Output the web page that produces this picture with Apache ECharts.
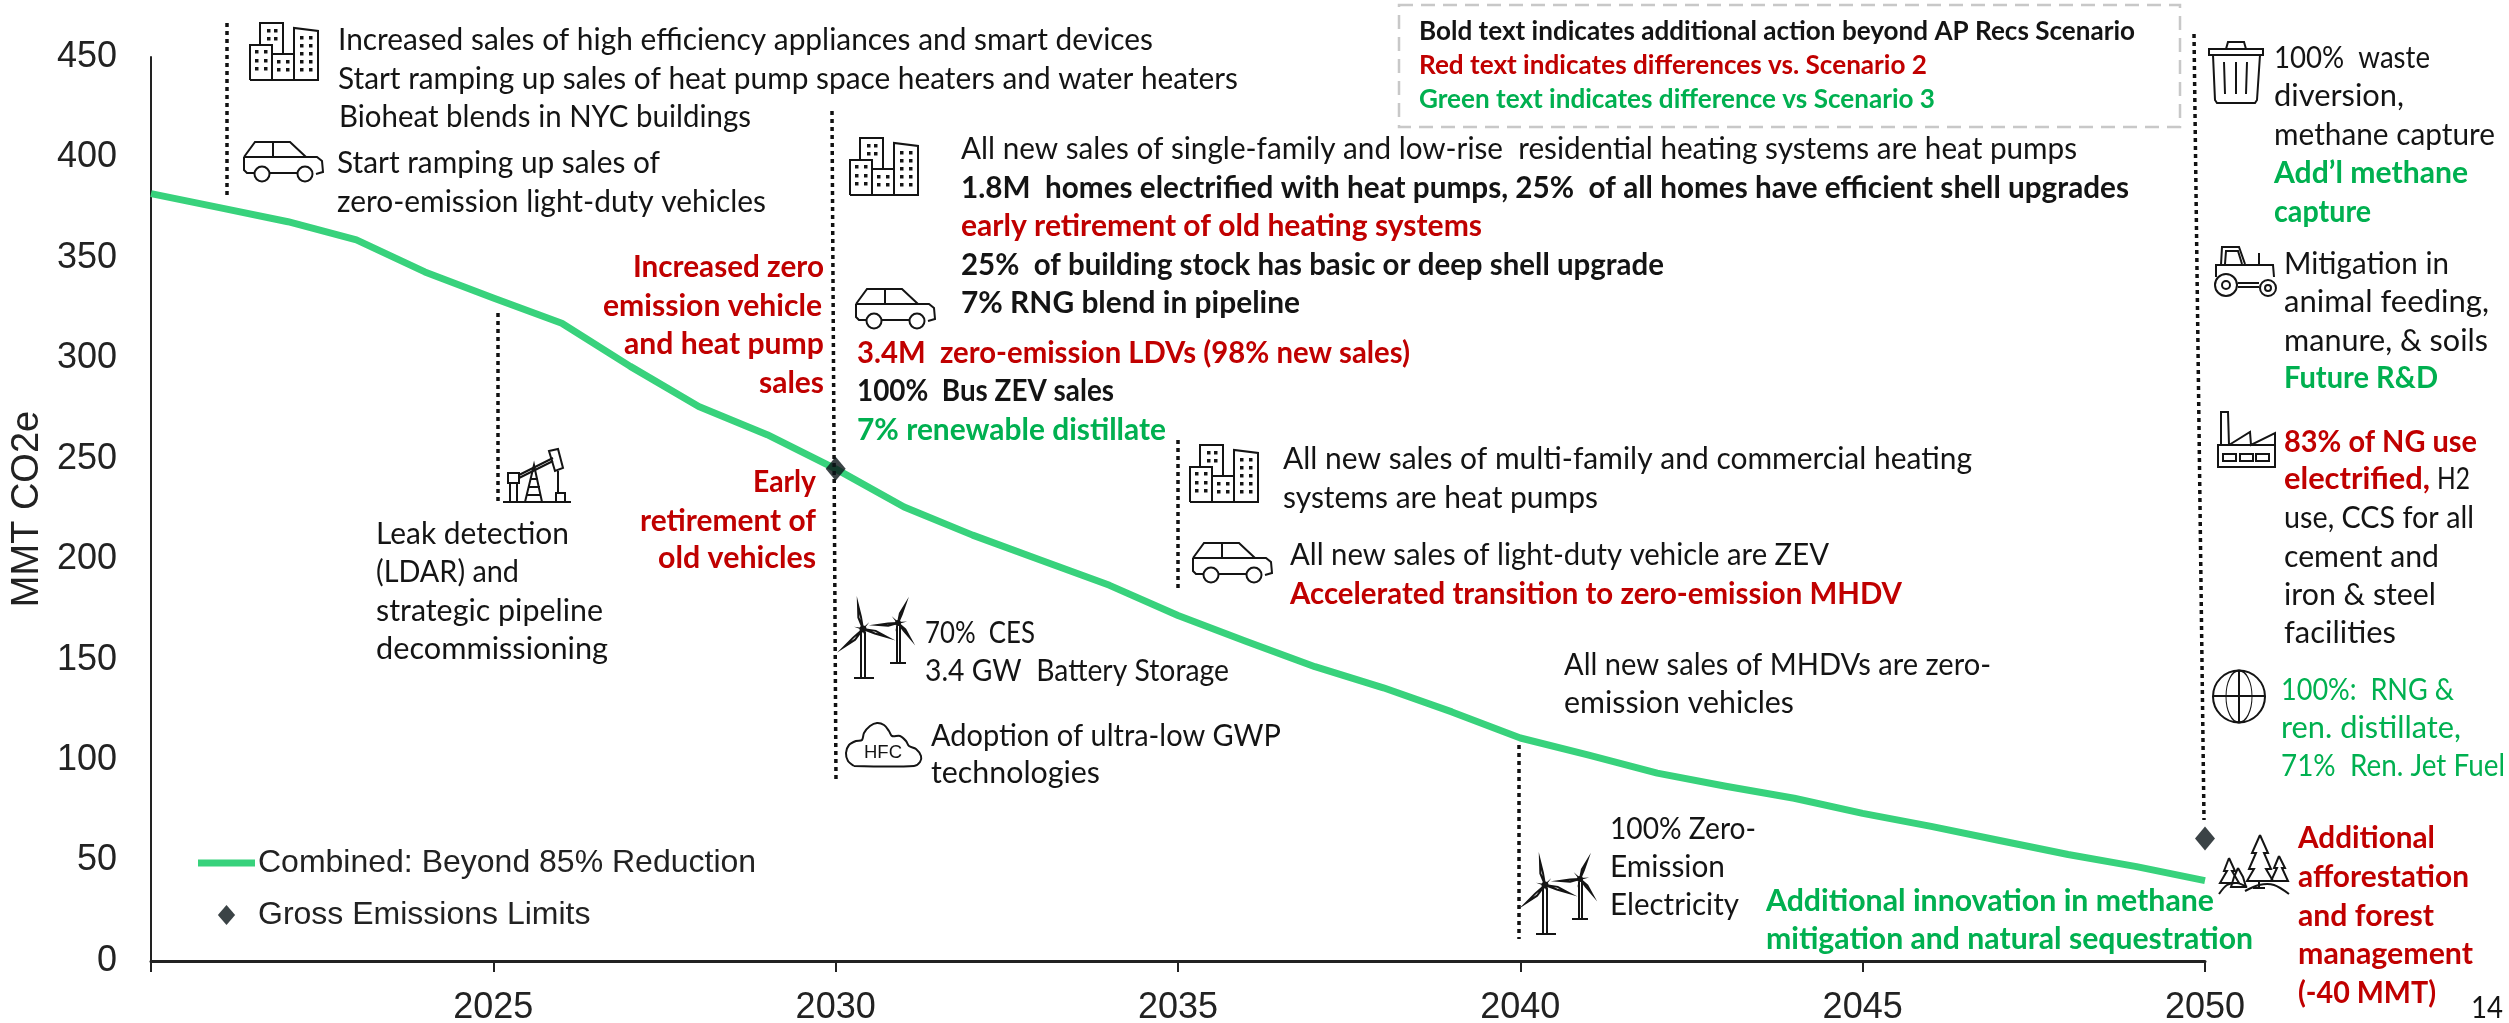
<!DOCTYPE html>
<html><head><meta charset="utf-8">
<style>html,body{margin:0;padding:0;background:#fff}#c{width:2509px;height:1023px}</style>
<script src="https://cdn.jsdelivr.net/npm/echarts@6/dist/echarts.min.js"></script>
</head><body><div id="c"></div>
<script>
// ---- data ----
const years = [2020,2021,2022,2023,2024,2025,2026,2027,2028,2029,2030,2031,2032,2033,2034,2035,2036,2037,2038,2039,2040,2041,2042,2043,2044,2045,2046,2047,2048,2049,2050];
const combined = [382,375,368,359,343,330,317.5,296,276,262,245,226,212,199.5,187,172,159,146.5,136,124,111,102.5,93.5,87,81,73.5,67,60,53,47,40];
const limitYears = [2030,2050];
const limitValues = [245,61];
const combinedName = 'Combined: Beyond 85% Reduction';
const limitName = 'Gross Emissions Limits';
const yTitle = 'MMT CO2e';

const RED='#C00000', GREEN='#00B050', INK='#141414';
const styles = {
  n:{font:'31px Lato',fill:INK}, b:{font:'bold 31px Lato',fill:INK},
  r:{font:'bold 31px Lato',fill:RED}, g:{font:'bold 31px Lato',fill:GREEN},
  gn:{font:'31px Lato',fill:GREEN},
  kb:{font:'bold 26px Lato',fill:INK}, kr:{font:'bold 26px Lato',fill:RED}, kg:{font:'bold 26px Lato',fill:GREEN},
  hfc:{font:'18px "Liberation Sans"',fill:INK}
};
// annotation layout: [text, left, right, baseline, style]
const notes = [
 ['Increased sales of high efficiency appliances and smart devices',338,1153,50,'n'],
 ['Start ramping up sales of heat pump space heaters and water heaters',338,1238,89,'n'],
 ['Bioheat blends in NYC buildings',339,751,127,'n'],
 ['Start ramping up sales of',337,660,173,'n'],
 ['zero-emission light-duty vehicles',337,766,212,'n'],
 ['Increased zero',633,824,277,'r'],['emission vehicle',603,822,316,'r'],['and heat pump',624,824,354,'r'],['sales',759,824,393,'r'],
 ['Early',753,816,492,'r'],['retirement of',640,816,531,'r'],['old vehicles',658,816,568,'r'],
 ['Leak detection',376,569,544,'n'],['(LDAR) and',376,519,582,'n'],['strategic pipeline',376,603,621,'n'],['decommissioning',376,608,659,'n'],
 ['All new sales of single-family and low-rise  residential heating systems are heat pumps',961,2077,159,'n'],
 ['1.8M  homes electrified with heat pumps, 25%  of all homes have efficient shell upgrades',961,2129,198,'b'],
 ['early retirement of old heating systems',961,1482,236,'r'],
 ['25%  of building stock has basic or deep shell upgrade',961,1664,275,'b'],
 ['7% RNG blend in pipeline',961,1300,313,'b'],
 ['3.4M  zero-emission LDVs (98% new sales)',857,1410,363,'r'],
 ['100%  Bus ZEV sales',857,1114,401,'b'],
 ['7% renewable distillate',857,1166,440,'g'],
 ['All new sales of multi-family and commercial heating',1283,1972,469,'n'],
 ['systems are heat pumps',1283,1598,508,'n'],
 ['All new sales of light-duty vehicle are ZEV',1290,1829,565,'n'],
 ['Accelerated transition to zero-emission MHDV',1290,1902,604,'r'],
 ['70%  CES',925,1035,643,'n'],['3.4 GW  Battery Storage',925,1229,681,'n'],
 ['Adoption of ultra-low GWP',931,1281,746,'n'],['technologies',931,1100,783,'n'],
 ['HFC',864,902,758,'hfc'],
 ['All new sales of MHDVs are zero-',1564,1991,675,'n'],['emission vehicles',1564,1794,713,'n'],
 ['100% Zero-',1610,1756,839,'n'],['Emission',1610,1725,877,'n'],['Electricity',1610,1739,915,'n'],
 ['Additional innovation in methane',1766,2214,911,'g'],['mitigation and natural sequestration',1766,2253,949,'g'],
 ['Additional',2298,2435,848,'r'],['afforestation',2298,2469,887,'r'],['and forest',2298,2434,926,'r'],['management',2298,2473,964,'r'],['(-40 MMT)',2298,2436,1003,'r'],
 ['14',2471,2503,1018,'n'],
 ['Bold text indicates additional action beyond AP Recs Scenario',1419,2135,40,'kb'],
 ['Red text indicates differences vs. Scenario 2',1419,1927,74,'kr'],
 ['Green text indicates difference vs Scenario 3',1419,1935,108,'kg'],
 ['100%  waste',2274,2430,68,'n'],['diversion,',2274,2404,106,'n'],['methane capture',2274,2495,145,'n'],
 ['Add\u2019l methane',2274,2468,183,'g'],['capture',2274,2371,222,'g'],
 ['Mitigation in',2284,2449,274,'n'],['animal feeding,',2284,2489,312,'n'],['manure, & soils',2284,2488,351,'n'],['Future R&D',2284,2438,388,'g'],
 ['83% of NG use',2284,2477,452,'r'],['electrified,',2284,2430,489,'r'],['H2',2437,2470,489,'n'],
 ['use, CCS for all',2284,2474,528,'n'],['cement and',2284,2439,567,'n'],['iron & steel',2284,2436,605,'n'],['facilities',2284,2396,643,'n'],
 ['100%:  RNG &',2281,2454,700,'gn'],['ren. distillate,',2281,2461,738,'gn'],['71%  Ren. Jet Fuel',2281,2505,776,'gn']
];
// dotted leader lines: [x1,y1,x2,y2]
const leaders = [[227,23,227,195],[498,313,498,502],[832,111,836,783],[1178,440,1178,592],[1519,745,1519,939],[2194,34,2204,820]];

// ---- text helpers ----
const ctx = document.createElement('canvas').getContext('2d');
function noteEl(n){
  const [t,l,r,base,k]=n, st=styles[k];
  ctx.font=st.font; ctx.textBaseline='alphabetic';
  const w=ctx.measureText(t).width;
  ctx.textBaseline='middle';
  const off=ctx.measureText('H').actualBoundingBoxDescent;
  return {type:'text',x:l,y:base-off,scaleX:(r-l)/w,z:5,silent:true,
    style:{text:t,font:st.font,fill:st.fill,verticalAlign:'middle',align:'left'}};
}
// ---- icon primitives ----
const S={stroke:INK,fill:'none',lineWidth:2};
const P=(pts,smooth)=>({type:'polyline',shape:{points:pts,smooth:smooth||0},style:S});
const Z=(pts)=>({type:'polygon',shape:{points:pts},style:S});
const C=(cx,cy,r)=>({type:'circle',shape:{cx,cy,r},style:S});
const E=(cx,cy,r,sx)=>({type:'circle',x:cx,y:cy,scaleX:sx,shape:{cx:0,cy:0,r},style:S});
const W=(x,y,w,h)=>({type:'rect',shape:{x,y,width:w,height:h},style:{fill:INK}});
const B=(x,y,w,h)=>({type:'rect',shape:{x,y,width:w,height:h},style:S});
const G=(x,y,children)=>({type:'group',x,y,z:4,silent:true,children});

function building(x,y){
  const ch=[P([[0,57],[0,22],[10,22],[10,0],[33,0],[33,31],[44,31],[44,5],[68,8],[68,57],[0,57]]),
    P([[10,22],[22,22],[22,57]]),P([[22,31],[33,31]]),P([[44,31],[44,57]])];
  [[5,27],[14,27],[5,36],[14,36],[5,44],[14,44],[27,37],[36,37],[27,45],[36,45],[17,6],[24,6],[17,14],[24,14],
   [50,13],[59,13],[50,21],[59,21],[50,29],[59,29],[50,37],[59,37],[50,45],[59,45]].forEach(p=>ch.push(W(p[0],p[1],3.5,3.5)));
  return G(x,y,ch);
}
function car(x,y){
  return G(x,y,[P([[0,15],[11,0],[46,0],[62,15],[73,15],[78,19],[79,30],[72,32]]),
    P([[0,15],[0,28],[3,31],[10,31]]),P([[29,0],[29,14]]),P([[0,15],[62,15]]),
    C(18,32,7.5),C(61,32,7.5),P([[26,31],[53,31]])]);
}
function pump(x,y){
  return G(x,y,[P([[0,53],[68,53]]),B(5,24,11,10),P([[7,34],[7,53]]),P([[14,34],[14,53]]),
    P([[22,53],[31,16],[39,53]]),P([[27,30],[35,30]]),P([[25,38],[37,38]]),P([[23,46],[38,46]]),
    P([[16,26],[50,9]]),P([[16,29],[50,12]]),Z([[46,2],[55,0],[60,19],[52,22]]),
    P([[55,22],[55,44]]),B(53,44,9,9)]);
}
function blade(h,t){const dx=t[1]-h[1],dy=h[0]-t[0],k=0.09;
  return Z([h,[(h[0]+t[0])/2+dx*k,(h[1]+t[1])/2+dy*k],t,[(h[0]+t[0])/2-dx*0.02,(h[1]+t[1])/2-dy*0.02]]);}
function turbine(x,y){
  return G(x,y,[P([[17,27],[17,73]]),P([[21,27],[21,73]]),P([[10,73],[30,73]]),C(19,24,2.5),
    blade([19,24],[14,0]),blade([19,24],[43,32]),blade([19,24],[0,42]),
    P([[53,21],[53,58]]),P([[56,21],[56,58]]),P([[46,58],[62,58]]),C(54,18,2),
    blade([54,18],[61,0]),blade([54,18],[34,20]),blade([54,18],[66,33])]);
}
function cloud(x,y){
  return G(x,y,[P([[8,43],[2,38],[0,30],[3,22],[10,18],[16,17],[18,10],[24,3],[31,0],[38,2],[43,8],[46,13],[54,13],[60,18],[63,23],[70,26],[75,33],[74,39],[68,43],[8,43]],0.3)]);
}
function trash(x,y){
  return G(x,y,[B(0,7,54,6),P([[17,7],[19,0],[35,0],[37,7]]),P([[4,13],[6,58],[8,61],[46,61],[48,58],[51,13]]),
    P([[15,20],[16,52]]),P([[27,20],[27,52]]),P([[38,20],[37,52]])]);
}
function tractor(x,y){
  return G(x,y,[C(13,38,11),C(13,38,4),C(55,41,8),C(55,41,3),P([[8,18],[9,0],[26,0],[32,17]]),P([[12,17],[13,4],[25,4],[29,17]]),
    P([[3,30],[3,18],[60,18],[61,30]]),P([[46,6],[46,17]]),P([[25,36],[46,36]]),P([[25,40],[46,40]])]);
}
function factory(x,y){
  return G(x,y,[P([[11,33],[32,20],[33,33],[57,21],[57,55],[0,55],[0,33],[3,33],[3,0],[10,0],[11,33]]),
    P([[0,33],[57,33]]),B(5,42,13,7),B(22,42,13,7),B(38,42,13,7)]);
}
function globe(x,y){
  return G(x,y,[C(26,26.5,26),E(26,26.5,26,0.5),P([[26,0],[26,53]]),P([[0,26],[52,26]])]);
}
function trees(x,y){
  return G(x,y,[
    P([[41,0],[33,18],[37,18],[30,34],[35,34],[28,46],[54,46],[47,34],[52,34],[45,18],[49,18],[41,0]]),
    P([[40,46],[40,53]]),P([[34,53],[46,53]]),
    P([[10,23],[5,36],[8,36],[1,48],[20,48],[13,36],[16,36],[10,23]]),
    P([[19,33],[15,42],[12,52],[27,52],[24,42],[19,33]]),
    P([[60,21],[55,33],[58,33],[52,46],[69,46],[63,33],[66,33],[60,21]]),
    P([[0,59],[8,50],[18,48],[28,52]],0.3),P([[26,56],[40,50],[55,50],[70,59]],0.3)]);
}

const graphics = [
  {type:'rect',z:1,silent:true,shape:{x:1399,y:5,width:781,height:122},style:{fill:'none',stroke:'#c8c8c8',lineWidth:2.5,lineDash:[14,8]}},
  ...leaders.map(l=>({type:'line',z:3,silent:true,shape:{x1:l[0],y1:l[1],x2:l[2],y2:l[3]},style:{stroke:'#111',lineWidth:3.5,lineDash:[4,4]}})),
  building(250,23),car(244,142),pump(503,449),building(850,138),car(856,289),building(1190,445),car(1193,543),
  turbine(844,605),cloud(846,723),turbine(1526,861),trash(2209,42),tractor(2213,247),factory(2218,412),globe(2213,670),trees(2219,835),
  ...notes.map(noteEl)
];

const LINE_GREEN='#38D27C', DIAMOND='#0a1418';
const chart = echarts.init(document.getElementById('c'),null,{renderer:'canvas'});
chart.setOption({
  animation:false,
  backgroundColor:'#fff',
  grid:{left:151,right:304,top:57,bottom:62,containLabel:false,outerBoundsMode:'none'},
  legend:{left:193,top:842,orient:'vertical',itemWidth:57,itemHeight:20,itemGap:20,selectedMode:false,
    textStyle:{fontFamily:'"Liberation Sans"',fontSize:32,color:'#222',padding:[0,0,0,-2]},
    data:[{name:combinedName,icon:'path://M0 0H57V7H0Z',itemStyle:{color:LINE_GREEN}},
          {name:limitName,icon:'path://M9.5 0L19 11L9.5 22L0 11Z',itemStyle:{color:DIAMOND}}]},
  xAxis:{type:'value',min:2020,max:2050,interval:5,splitLine:{show:false},
    axisLine:{lineStyle:{color:'#222',width:3}},axisTick:{length:11,lineStyle:{color:'#222',width:2},inside:false},
    axisLabel:{fontFamily:'"Liberation Sans"',fontSize:36,color:'#222',margin:29,
      formatter:v=>v===2020?'':String(v)}},
  yAxis:{type:'value',min:0,max:450,interval:50,splitLine:{show:false},
    name:yTitle,nameLocation:'middle',nameGap:102,nameRotate:90,
    nameTextStyle:{fontFamily:'"Liberation Sans"',fontSize:38,color:'#222'},
    axisLine:{show:true,lineStyle:{color:'#222',width:2}},axisTick:{show:false},
    axisLabel:{fontFamily:'"Liberation Sans"',fontSize:36,color:'#222',margin:34}},
  series:[
    {name:combinedName,type:'line',showSymbol:false,symbol:'none',z:2,
      lineStyle:{color:LINE_GREEN,width:7,join:'round'},itemStyle:{color:LINE_GREEN},
      data:years.map((y,i)=>[y,combined[i]])},
    {name:limitName,type:'scatter',symbol:'diamond',symbolSize:[20,24],z:6,
      itemStyle:{color:DIAMOND},
      data:limitYears.map((y,i)=>[y,limitValues[i]])}
  ],
  graphic:{elements:graphics}
});
</script></body></html>
